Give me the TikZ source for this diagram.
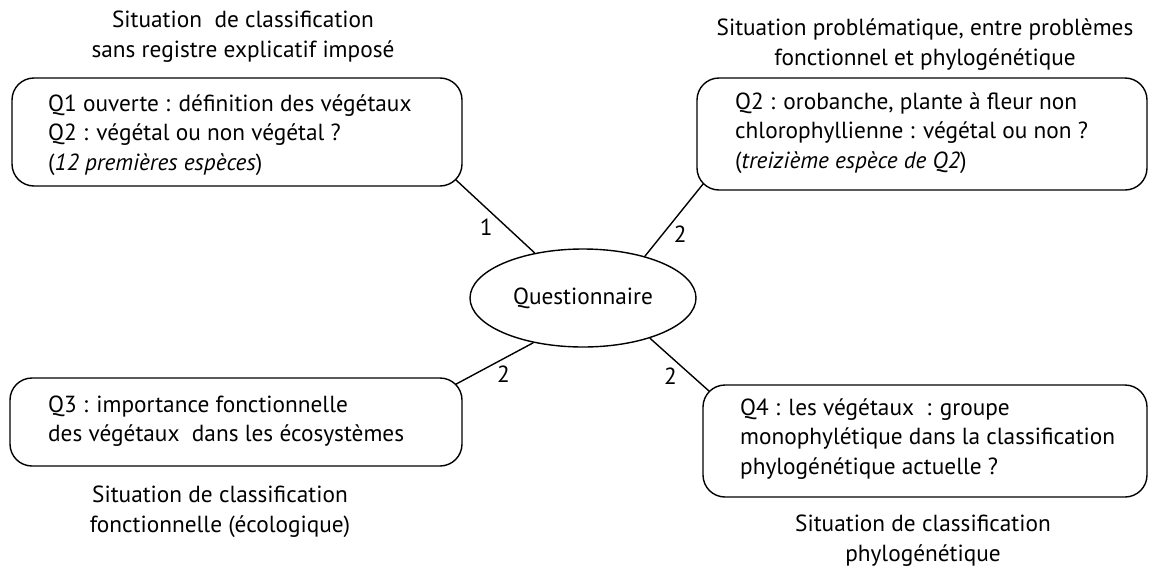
\documentclass[tikz,border=0pt]{standalone}
\usepackage{fontspec}
\setmainfont{PT Sans}
\usetikzlibrary{shapes.geometric,calc}
\tikzset{
  box/.style={draw, line width=1.4pt, rounded corners=22pt, inner sep=0pt},
  txt/.style={align=left, inner sep=0pt, font=\fontsize{23.3}{29.5}\selectfont},
  ttl/.style={align=center, inner sep=0pt, font=\fontsize{23.3}{30}\selectfont},
  qnode/.style={draw, ellipse, line width=1.4pt, minimum width=226pt, minimum height=98pt, inner sep=0pt, font=\fontsize{23.3}{26}\selectfont},
  conn/.style={line width=1.4pt},
  lbl/.style={inner sep=2pt, font=\fontsize{23.3}{26}\selectfont}
}
\begin{document}
\begin{tikzpicture}[x=1pt,y=-1pt]
\useasboundingbox (0,0) rectangle (1150,570);
% boxes
\node[box, minimum width=450pt, minimum height=108pt] (b1) at (237,132) {};
\node[box, minimum width=450pt, minimum height=112pt] (b2) at (922,134) {};
\node[box, minimum width=452pt, minimum height=88pt] (b3) at (236,422) {};
\node[box, minimum width=444pt, minimum height=112pt] (b4) at (925,441) {};
% box texts
\node[txt, anchor=west] (t1) at (48,135) {Q1 ouverte : définition des végétaux\\Q2 : végétal ou non végétal ?\\(\textit{12 premières espèces})};
\node[txt, anchor=west] (t2) at (735,133) {Q2 : orobanche, plante à fleur non\\chlorophyllienne : végétal ou non ?\\(\textit{treizième espèce de Q2})};
\node[txt, anchor=west] (t3) at (48,421) {Q3 : importance fonctionnelle\\des végétaux\ \ dans les écosystèmes};
\node[txt, anchor=west] (t4) at (740,439) {Q4 : les végétaux\ \ : groupe\\monophylétique dans la classification\\phylogénétique actuelle ?};
% titles
\node[ttl] (h1) at (243,37) {Situation\ \ de classification\\sans registre explicatif imposé};
\node[ttl] (h2) at (925,45) {Situation problématique, entre problèmes\\fonctionnel et phylogénétique};
\node[ttl] (h3) at (220,512) {Situation de classification\\fonctionnelle (écologique)};
\node[ttl] (h4) at (923,541) {Situation de classification\\phylogénétique};
% centre
\node[qnode] (q) at (583,298) {Questionnaire};
% connector ends on the rounded corners
\coordinate (c1) at ($(b1.south east)+(-7,-7)$);
\coordinate (c2) at ($(b2.south west)+(7,-7)$);
\coordinate (c3) at ($(b3.north east)+(-7,7)$);
\coordinate (c4) at ($(b4.north west)+(7,7)$);
\draw[conn] (c1) -- node[lbl, pos=0.5, below left] (l1) {1} (q.137);
\draw[conn] (c2) -- node[lbl, pos=0.55, below right] (l2) {2} (q.34);
\draw[conn] (q.222) -- node[lbl, pos=0.5, below right] (l3) {2} (c3);
\draw[conn] (q.-31) -- node[lbl, pos=0.5, below left] (l4) {2} (c4);
\end{tikzpicture}
\end{document}
